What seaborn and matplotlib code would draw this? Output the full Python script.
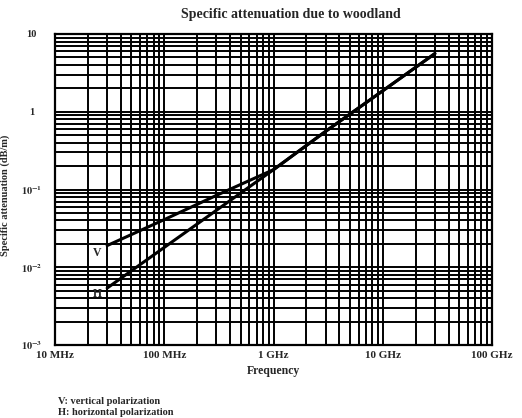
import pandas as pd
import matplotlib
matplotlib.use("Agg")
import matplotlib.pyplot as plt
import seaborn as sns

# values (frequency in MHz, attenuation in dB/m)
freq_mhz = [30, 100, 300, 1000, 3000, 10000, 30000]
att_v = [0.019, 0.041, 0.084, 0.18, 0.56, 1.86, 5.6]
att_h = [0.0054, 0.018, 0.054, 0.18, 0.56, 1.86, 5.6]

x_ticks = [10, 100, 1000, 10000, 100000]
x_labels = ['10 MHz', '100 MHz', '1 GHz', '10 GHz', '100 GHz']
y_ticks = [1e-3, 1e-2, 1e-1, 1, 10]
y_labels = [r'$\mathbf{10^{-3}}$', r'$\mathbf{10^{-2}}$', r'$\mathbf{10^{-1}}$', '1', '10']

df = pd.DataFrame({
    'freq': freq_mhz + freq_mhz,
    'att': att_v + att_h,
    'pol': ['V'] * len(freq_mhz) + ['H'] * len(freq_mhz),
})

sns.set_style('white')
plt.rcParams['font.family'] = ['Liberation Serif', 'DejaVu Serif']
plt.rcParams['font.weight'] = 'bold'
plt.rcParams['mathtext.fontset'] = 'stix'

fig = plt.figure(figsize=(5.22, 4.18), dpi=100)
ax = fig.add_axes([0.1054, 0.1746, 0.8372, 0.7441])
ax.set_xscale('log')
ax.set_yscale('log')

sns.lineplot(data=df, x='freq', y='att', hue='pol', palette=['black', 'black'],
             legend=False, lw=2.2, ax=ax, sort=False)

ax.set_xlim(10, 100000)
ax.set_ylim(1e-3, 10)
ax.grid(True, which='both', color='black', lw=1.4)
for s in ax.spines.values():
    s.set_color('black')
    s.set_linewidth(1.6)

ax.set_xticks(x_ticks)
ax.set_xticklabels(x_labels, fontsize=8, fontweight='bold')
ax.set_yticks(y_ticks)
ax.set_yticklabels(y_labels, fontsize=7.5, fontweight='bold')
ax.tick_params(which='both', length=0)
ax.tick_params(axis='x', pad=4)
ax.tick_params(axis='y', pad=17)
for lbl in ax.get_yticklabels():
    lbl.set_ha('center')

ax.set_xlabel('Frequency', fontsize=8.5, fontweight='bold', labelpad=4)
ax.set_ylabel('Specific attenuation (dB/m)', fontsize=7.5, fontweight='bold')
ax.yaxis.set_label_coords(-0.103, 0.48)

# curve labels next to the start of each curve
ax.annotate('V', xy=(freq_mhz[0], att_v[0]), xytext=(-7, -5), textcoords='offset points',
            ha='center', va='center', fontsize=8.5, fontweight='bold')
ax.annotate('H', xy=(freq_mhz[0], att_h[0]), xytext=(-7, -4), textcoords='offset points',
            ha='center', va='center', fontsize=8.5, fontweight='bold')

fig.text(0.557, 0.966, 'Specific attenuation due to woodland', ha='center', va='center',
         fontsize=10, fontweight='bold')
fig.text(0.111, 0.040, 'V: vertical polarization', ha='left', va='center',
         fontsize=7.5, fontweight='bold')
fig.text(0.111, 0.014, 'H: horizontal polarization', ha='left', va='center',
         fontsize=7.5, fontweight='bold')

fig.savefig('out.png', dpi=100)
